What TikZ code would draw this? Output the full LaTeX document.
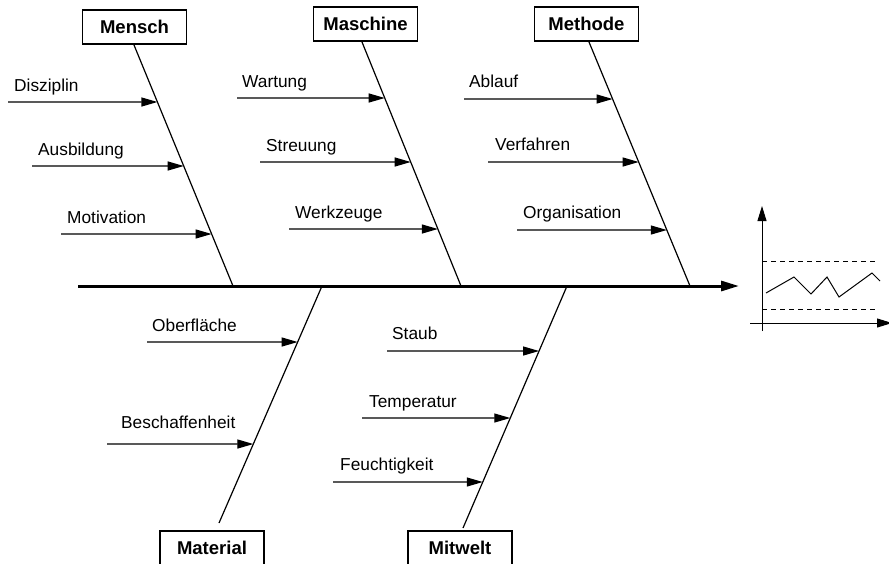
\documentclass[tikz,border=0pt]{standalone}
\usepackage{fontspec}
\setmainfont{Liberation Sans}
\usetikzlibrary{arrows.meta}

\tikzset{
  cat/.style={draw,line width=1.2pt,font=\fontsize{18.5}{22}\selectfont\bfseries,minimum width=104pt,minimum height=34pt,inner sep=2pt},
  cause/.style={anchor=base west,inner sep=0pt,font=\fontsize{17.3}{20}\selectfont},
  bone/.style={line width=1.2pt},
  cz/.style={line width=1.2pt,-{Triangle[length=16pt,width=9pt]}},
}

\begin{document}
\begin{tikzpicture}[x=1pt,y=-1pt]
\useasboundingbox (0,0) rectangle (889,563);
% spine
\coordinate (tail) at (78,286); \coordinate (head) at (739,286);
\draw[line width=3pt,-{Triangle[length=18pt,width=10pt]}] (tail) -- (head);
% categories
\node[cat] (mensch) at (134.5,27) {Mensch};
\node[cat] (maschine) at (365.5,24) {Maschine};
\node[cat] (methode) at (586.5,24) {Methode};
\node[cat] (material) at (212,548) {Material};
\node[cat] (mitwelt) at (460,548) {Mitwelt};
% bones
\coordinate (s1) at (233,286); \coordinate (s2) at (461,286); \coordinate (s3) at (690,286);
\coordinate (s4) at (322,286); \coordinate (s5) at (567,286);
\coordinate (e4) at (219,523); \coordinate (e5) at (463,528);
\coordinate (t1) at (134,45); \coordinate (t2) at (362,42); \coordinate (t3) at (589,42);
\draw[bone] (t1) -- (s1); \draw[bone] (t2) -- (s2); \draw[bone] (t3) -- (s3);
\draw[bone] (s4) -- (e4); \draw[bone] (s5) -- (e5);
% causes
\foreach \xs/\yy/\dx/\dy/\txt [count=\i] in {8/102/6/-11/Disziplin, 32/166/6/-11/Ausbildung, 61/234/6/-11/Motivation}{
  \coordinate (ma\i) at (\xs,\yy); \coordinate (mb\i) at (intersection of t1--s1 and 0,\yy--1,\yy);
  \draw[cz] (ma\i) -- (mb\i); \node[cause] (ml\i) at ([shift={(\dx,\dy)}]ma\i) {\txt};
}
\foreach \xs/\yy/\dx/\dy/\txt [count=\i] in {237/98/5/-11/Wartung, 260/162/6/-11/Streuung, 289/229/6/-11/Werkzeuge}{
  \coordinate (qa\i) at (\xs,\yy); \coordinate (qb\i) at (intersection of t2--s2 and 0,\yy--1,\yy);
  \draw[cz] (qa\i) -- (qb\i); \node[cause] (ql\i) at ([shift={(\dx,\dy)}]qa\i) {\txt};
}
\foreach \xs/\yy/\dx/\dy/\txt [count=\i] in {464/99/5/-12/Ablauf, 488/162/7/-12/Verfahren, 517/230/6/-12/Organisation}{
  \coordinate (ha\i) at (\xs,\yy); \coordinate (hb\i) at (intersection of t3--s3 and 0,\yy--1,\yy);
  \draw[cz] (ha\i) -- (hb\i); \node[cause] (hl\i) at ([shift={(\dx,\dy)}]ha\i) {\txt};
}
\foreach \xs/\yy/\dx/\dy/\txt [count=\i] in {147/342/5/-11/Oberfläche, 107/444/14/-16/Beschaffenheit}{
  \coordinate (ra\i) at (\xs,\yy); \coordinate (rb\i) at (intersection of s4--e4 and 0,\yy--1,\yy);
  \draw[cz] (ra\i) -- (rb\i); \node[cause] (rl\i) at ([shift={(\dx,\dy)}]ra\i) {\txt};
}
\foreach \xs/\yy/\dx/\dy/\txt [count=\i] in {387/351/5/-12/Staub, 362/418/7/-11/Temperatur, 333/482/7/-12/Feuchtigkeit}{
  \coordinate (wa\i) at (\xs,\yy); \coordinate (wb\i) at (intersection of s5--e5 and 0,\yy--1,\yy);
  \draw[cz] (wa\i) -- (wb\i); \node[cause] (wl\i) at ([shift={(\dx,\dy)}]wa\i) {\txt};
}
% chart
\draw[line width=1pt,-{Triangle[length=15pt,width=9pt]}] (762,331) -- (762,206);
\draw[line width=1pt,-{Triangle[length=15pt,width=9pt]}] (750,323) -- (892,323);
\draw[line width=0.9pt,dash pattern=on 5pt off 4pt] (762,261) -- (877,261) (762,309) -- (877,309);
\draw[line width=1pt] (766,293) -- (794,277) -- (811,294) -- (827,277) -- (839,297) -- (872,273) -- (880,281);
\end{tikzpicture}
\end{document}
